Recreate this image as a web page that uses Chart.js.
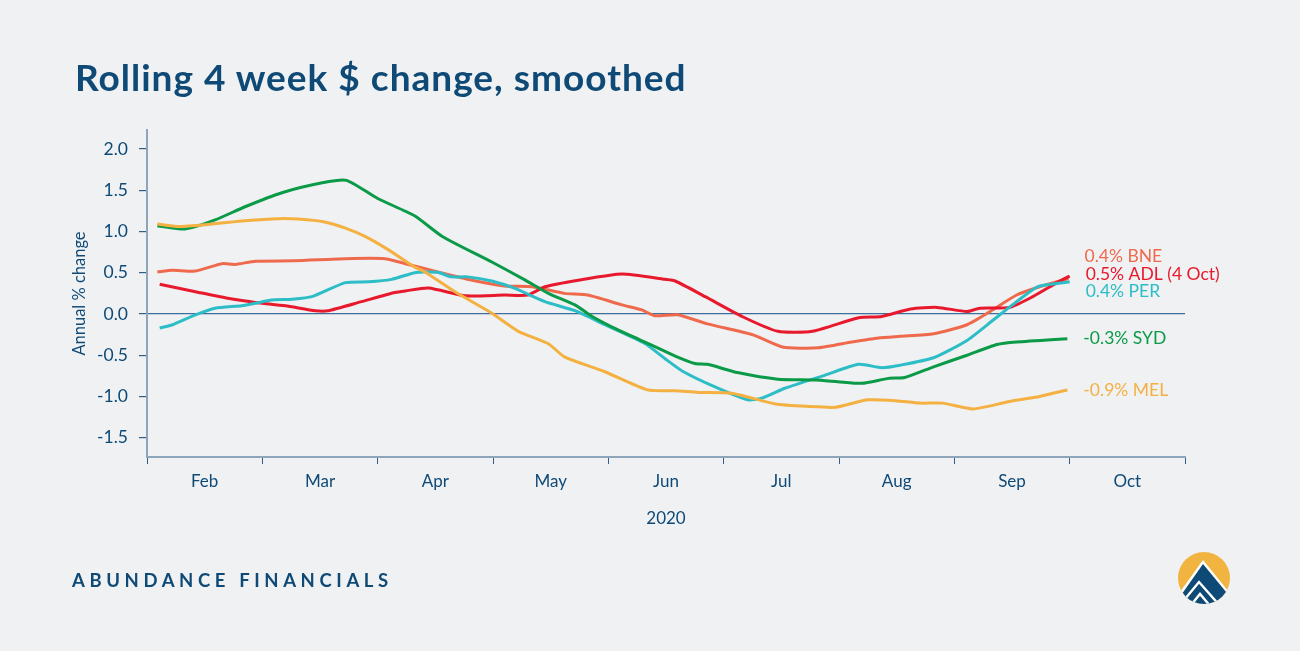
<!DOCTYPE html>
<html>
<head>
<meta charset="utf-8">
<script src="https://cdn.jsdelivr.net/npm/chart.js@4"></script>
<style>
  html, body { margin:0; padding:0; width:1300px; height:651px; background:#eff1f3; overflow:hidden; }
  #title { position:absolute; left:75px; top:54px; font-family:Lato, sans-serif; font-weight:700; font-size:37px; color:#0f4a77; letter-spacing:1px; white-space:nowrap; }
  #footer { position:absolute; left:72px; top:569px; font-family:Lato, sans-serif; font-weight:700; font-size:18.5px; color:#0f4a77; letter-spacing:4.6px; white-space:nowrap; }
  #wrap { position:absolute; left:0; top:0; width:1300px; height:651px; }
  #logo { position:absolute; left:1175px; top:549px; width:58px; height:58px; }
</style>
</head>
<body>
<div id="wrap"><canvas id="c" width="1300" height="651"></canvas></div>
<div id="title">Rolling 4 week $ change, smoothed</div>
<div id="footer">ABUNDANCE FINANCIALS</div>
<svg id="logo" viewBox="0 0 58 58">
  <defs><clipPath id="cc"><circle cx="29" cy="29" r="26"/></clipPath></defs>
  <circle cx="29" cy="29" r="26" fill="#f2b441"/>
  <g clip-path="url(#cc)">
    <polygon points="28,11 0,50 0,60 58,60 58,48" fill="#ffffff"/>
    <polygon points="28,15 2,52 2,60 56,60 56,49" fill="#0f4a77"/>
    <polyline points="10,50 24,33 46,58" fill="none" stroke="#ffffff" stroke-width="2.4"/>
    <polyline points="16,56 25,45 36,58" fill="none" stroke="#ffffff" stroke-width="2.4"/>
  </g>
</svg>
<script>
// ---- data (x positions in months since 1 Feb 2020) ----
const months = ['Feb','Mar','Apr','May','Jun','Jul','Aug','Sep','Oct'];
const yearLabel = '2020';
const yAxisTitle = 'Annual % change';

const sydX = [0.09,0.33,0.59,0.85,1.17,1.52,1.73,2.00,2.32,2.56,2.99,3.28,3.48,3.71,3.86,4.08,4.38,4.58,4.75,4.86,5.12,5.47,5.79,5.99,6.20,6.43,6.57,6.82,7.11,7.37,7.54,7.98];
const sydY = [1.07,1.03,1.14,1.30,1.47,1.59,1.62,1.40,1.19,0.94,0.63,0.41,0.25,0.11,-0.03,-0.19,-0.38,-0.51,-0.60,-0.61,-0.71,-0.79,-0.80,-0.82,-0.84,-0.78,-0.77,-0.64,-0.50,-0.37,-0.34,-0.30];

const melX = [0.09,0.27,0.56,0.85,1.14,1.31,1.54,1.72,1.89,2.09,2.32,2.41,2.67,2.99,3.22,3.48,3.62,3.97,4.34,4.58,4.78,5.07,5.45,5.73,5.97,6.25,6.49,6.70,6.90,7.16,7.48,7.74,7.98];
const melY = [1.09,1.06,1.09,1.13,1.155,1.15,1.115,1.04,0.94,0.78,0.57,0.51,0.27,0.01,-0.21,-0.36,-0.52,-0.70,-0.92,-0.93,-0.95,-0.96,-1.09,-1.12,-1.13,-1.04,-1.05,-1.08,-1.08,-1.15,-1.06,-1.00,-0.92];

const bneX = [0.09,0.22,0.42,0.65,0.76,0.94,1.28,1.72,2.06,2.24,2.52,2.82,3.10,3.34,3.62,3.82,4.12,4.29,4.40,4.60,4.86,5.25,5.51,5.82,6.11,6.34,6.53,6.82,7.11,7.31,7.54,7.74,7.99];
const bneY = [0.51,0.53,0.52,0.61,0.60,0.64,0.645,0.67,0.67,0.61,0.51,0.41,0.34,0.33,0.25,0.23,0.11,0.05,-0.02,-0.01,-0.12,-0.25,-0.40,-0.41,-0.34,-0.29,-0.27,-0.24,-0.13,0.03,0.23,0.33,0.43];

const adlX = [0.11,0.42,0.70,0.94,1.20,1.46,1.57,1.86,2.15,2.24,2.44,2.76,3.10,3.30,3.45,3.74,4.12,4.49,4.58,4.84,5.16,5.47,5.77,6.17,6.37,6.62,6.85,7.11,7.22,7.48,7.68,7.89,8.00];
const adlY = [0.36,0.27,0.19,0.14,0.10,0.04,0.04,0.15,0.26,0.28,0.315,0.22,0.23,0.23,0.33,0.41,0.485,0.42,0.40,0.21,-0.03,-0.21,-0.21,-0.045,-0.03,0.06,0.08,0.03,0.07,0.08,0.21,0.38,0.46];

const perX = [0.11,0.22,0.42,0.59,0.82,0.94,1.08,1.26,1.43,1.72,1.92,2.12,2.32,2.41,2.52,2.64,2.78,2.99,3.19,3.45,3.71,3.97,4.32,4.49,4.64,4.92,5.21,5.33,5.53,5.88,6.17,6.37,6.53,6.82,7.11,7.34,7.54,7.72,7.89,8.00];
const perY = [-0.17,-0.13,-0.01,0.07,0.10,0.13,0.17,0.18,0.21,0.38,0.39,0.42,0.50,0.51,0.505,0.45,0.45,0.40,0.31,0.15,0.04,-0.13,-0.36,-0.54,-0.69,-0.88,-1.04,-1.02,-0.90,-0.74,-0.61,-0.65,-0.62,-0.53,-0.32,-0.07,0.15,0.33,0.37,0.39];

// end labels (same order as series below) and the value level where each label sits
const endLabels = ['0.4% BNE','0.5% ADL (4 Oct)','0.4% PER','-0.3% SYD','-0.9% MEL'];
const endLabelLevels = [0.70, 0.485, 0.27, -0.29, -0.93];

const NAVY = '#0f4a77';
const pts = (xs, ys) => xs.map((x, i) => ({x, y: ys[i]}));

const series = [
  {name:'BNE', data: pts(bneX, bneY), color:'#ef6a4d'},
  {name:'ADL', data: pts(adlX, adlY), color:'#e8192c'},
  {name:'PER', data: pts(perX, perY), color:'#2dbdc6'},
  {name:'SYD', data: pts(sydX, sydY), color:'#0b9a47'},
  {name:'MEL', data: pts(melX, melY), color:'#f4b142'}
];

const endLabelPlugin = {
  id: 'endLabels',
  afterDatasetsDraw(chart) {
    const ctx = chart.ctx;
    const ys = chart.scales.y;
    ctx.save();
    ctx.font = '17.5px Lato, sans-serif';
    ctx.textBaseline = 'middle';
    ctx.textAlign = 'left';
    chart.data.datasets.forEach((ds, i) => {
      const meta = chart.getDatasetMeta(i);
      const last = meta.data[meta.data.length - 1];
      ctx.fillStyle = ds.borderColor;
      ctx.fillText(endLabels[ds.seriesIndex], last.x + 16, ys.getPixelForValue(endLabelLevels[ds.seriesIndex]));
    });
    ctx.restore();
  }
};

new Chart(document.getElementById('c'), {
  type: 'line',
  data: {
    datasets: series.map((s, k) => ({
      label: s.name, seriesIndex: k, data: s.data, borderColor: s.color, backgroundColor: s.color,
      borderWidth: 3, pointRadius: 0, tension: 0.2, xAxisID: 'x', yAxisID: 'y'
    })).reverse()
  },
  options: {
    responsive: false, animation: false,
    layout: { padding: { left: 60, right: 115, top: 130, bottom: 114 } },
    plugins: { legend: { display: false }, tooltip: { enabled: false } },
    scales: {
      x: { type: 'linear', display: false, min: 0, max: 9 },
      months: {
        type: 'category', position: 'bottom', labels: months, offset: true,
        grid: { offset: true, drawOnChartArea: false, tickLength: 7, tickColor: '#2f5f8a', lineWidth: 1 },
        border: { color: '#8ea6bc', width: 2 },
        ticks: { color: NAVY, font: { family: 'Lato', size: 17 }, padding: 7, maxRotation: 0 },
        title: { display: true, text: yearLabel, color: NAVY, font: { family: 'Lato', size: 17 }, padding: { top: 0, bottom: 8 } },
        afterFit(scale) { scale.height = 80; }
      },
      y: {
        type: 'linear', min: -1.733, max: 2.23,
        ticks: { stepSize: 0.5, includeBounds: false, color: NAVY, font: { family: 'Lato', size: 17.5 }, padding: 11,
                 callback: v => v.toFixed(1) },
        grid: { color: c => (c.tick && c.tick.value === 0) ? '#3d6f9c' : 'rgba(0,0,0,0)', lineWidth: 1.2,
                tickLength: 8, tickColor: '#2f5f8a' },
        border: { color: '#8ea6bc', width: 2 },
        title: { display: true, text: yAxisTitle, color: NAVY, font: { family: 'Lato', size: 16.5 }, padding: { top: 10, bottom: 0 } },
        afterFit(scale) { scale.width = 87; }
      }
    }
  },
  plugins: [endLabelPlugin]
});
</script>
</body>
</html>
